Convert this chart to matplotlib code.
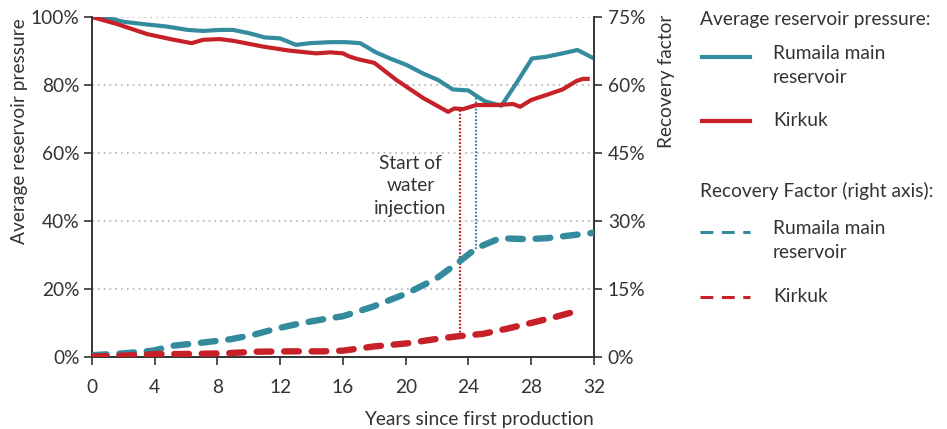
import numpy as np
import matplotlib
matplotlib.use("Agg")
import matplotlib.pyplot as plt
from matplotlib.lines import Line2D

plt.rcParams['font.family'] = ['Lato', 'DejaVu Sans']

# ---- data ----
rum_p_x = [0, 1.15, 2.0, 3.3, 4.75, 6.1, 7.1, 8.15, 9.0, 10.05, 11.0, 12.0, 13.0, 13.9, 15.2, 16.2,
           17.1, 18.1, 19.0, 20.05, 21.1, 22.05, 23.0, 24.0, 24.4, 25.05, 26.1, 27.05, 28.05, 28.95, 30.0, 30.95, 32.0]
rum_p_y = [100, 99.6, 98.6, 97.9, 97.2, 96.2, 95.9, 96.2, 96.2, 95.2, 94.0, 93.7, 91.8, 92.3, 92.6, 92.6,
           92.3, 89.6, 87.8, 85.9, 83.4, 81.5, 78.7, 78.4, 77.1, 75.2, 73.9, 80.5, 87.8, 88.3, 89.3, 90.3, 87.8]

kir_p_x = [0, 1.55, 3.5, 5.0, 6.35, 7.1, 8.15, 9.0, 10.9, 12.6, 14.3, 15.2, 16.0, 16.4, 16.95, 18.0,
           19.4, 21.1, 22.7, 23.1, 23.65, 24.5, 25.8, 26.85, 27.3, 28.0, 29.05, 30.0, 30.9, 31.3, 31.6]
kir_p_y = [100, 98.0, 95.0, 93.5, 92.3, 93.3, 93.5, 93.0, 91.3, 90.1, 89.3, 89.6, 89.3, 88.4, 87.6, 86.5,
           81.5, 76.2, 72.1, 73.1, 72.9, 74.1, 74.1, 74.4, 73.6, 75.6, 77.2, 78.7, 81.2, 81.8, 81.8]

rum_rf_x = [0, 2.0, 3.9, 5.2, 7.1, 8.8, 10.3, 11.8, 13.25, 14.7, 16.0, 17.9, 20.05, 21.95, 23.4, 24.5,
            26.0, 27.7, 28.95, 30.7, 32.0]
rum_rf_y = [0.4, 0.8, 1.4, 2.5, 3.2, 3.9, 4.9, 6.3, 7.4, 8.3, 9.0, 11.1, 14.0, 17.3, 21.0, 24.0,
            26.2, 26.0, 26.2, 26.9, 27.4]

kir_rf_x = [0, 2.0, 4.1, 5.8, 8.35, 10.5, 12.6, 14.7, 16.0, 17.9, 20.05, 22.2, 23.4, 24.9, 26.4,
            28.1, 29.6, 31.2]
kir_rf_y = [0.1, 0.3, 0.66, 0.66, 0.8, 1.17, 1.25, 1.25, 1.4, 2.3, 3.0, 4.1, 4.6, 5.1, 6.2,
            7.6, 8.9, 10.4]

injection_year = {'Kirkuk': 23.45, 'Rumaila': 24.45}

x_ticks = [0, 4, 8, 12, 16, 20, 24, 28, 32]
left_ticks = [0, 20, 40, 60, 80, 100]
right_ticks = [0, 15, 30, 45, 60, 75]

TEAL = '#338B9D'
RED = '#C62128'
TXT = '#333333'
FS = 13.8

fig = plt.figure(figsize=(9.47, 4.29), dpi=100)
ax = fig.add_axes([0.0971, 0.1678, 0.5301, 0.7926])
ax2 = ax.twinx()

ax.set_xlim(0, 32)
ax.set_ylim(0, 100)
ax2.set_ylim(0, 75)

for v in left_ticks[1:]:
    ax.axhline(v, color='#b0b0b0', lw=1.2, ls=(0, (1, 2.5)), zorder=0)

ax.plot(rum_p_x, rum_p_y, color=TEAL, lw=3.0, solid_joinstyle='round', zorder=3)
ax.plot(kir_p_x, kir_p_y, color=RED, lw=3.0, solid_joinstyle='round', zorder=3)

ax2.plot(rum_rf_x, rum_rf_y, color=TEAL, lw=4.6, ls=(0, (2.3, 2.0)), dash_capstyle='round', zorder=3)
ax2.plot(kir_rf_x, kir_rf_y, color=RED, lw=4.6, ls=(0, (2.3, 2.0)), dash_capstyle='round', zorder=3)

# vertical injection markers, in left-axis units
scale = 100 / 75
for name, col, px, py, rx, ry in [('Kirkuk', RED, kir_p_x, kir_p_y, kir_rf_x, kir_rf_y),
                                   ('Rumaila', TEAL, rum_p_x, rum_p_y, rum_rf_x, rum_rf_y)]:
    xv = injection_year[name]
    y0 = np.interp(xv, rx, ry) * scale
    y1 = np.interp(xv, px, py)
    ax.plot([xv, xv], [y0, y1], color=col, lw=1.6, ls=(0, (0.8, 0.8)), zorder=2)

ax.text(20.3, 50.3, 'Start of\nwater\ninjection', ha='center', va='center', fontsize=FS,
        color=TXT, linespacing=1.4)

ax.set_xticks(x_ticks)
ax.set_yticks(left_ticks)
ax.set_yticklabels([f'{v}%' for v in left_ticks])
ax2.set_yticks(right_ticks)
ax2.set_yticklabels([f'{v}%' for v in right_ticks])

for a in (ax, ax2):
    a.spines['top'].set_visible(False)
    for s in a.spines.values():
        s.set_color('#333333')
        s.set_linewidth(1.2)
    a.tick_params(colors='#333333', labelcolor=TXT, labelsize=FS, width=1.2, length=6, pad=3)
ax.tick_params(axis='x', pad=10)
ax2.tick_params(axis='y', pad=4)

ax.set_xlabel('Years since first production', fontsize=FS, color=TXT, ha='right')
ax.xaxis.set_label_coords(1.0, -0.16)
ax.set_ylabel('Average reservoir pressure', fontsize=FS, color=TXT)
ax.yaxis.set_label_coords(-0.128, 0.665)
ax2.set_ylabel('Recovery factor', fontsize=FS, color=TXT, rotation=90)
ax2.yaxis.set_label_coords(1.128, 0.81)

# legend (manual)
W, H = 947, 429
def fx(p): return p / W
def fy(p): return 1 - p / H

fig.text(fx(700), fy(20), 'Average reservoir pressure:', fontsize=FS, color=TXT, va='center')
fig.text(fx(700), fy(191), 'Recovery Factor (right axis):', fontsize=FS, color=TXT, va='center')
entries = [(57, TEAL, '-', 'Rumaila main\nreservoir', 65.5),
           (121, RED, '-', 'Kirkuk', 120),
           (232, TEAL, '--', 'Rumaila main\nreservoir', 240.5),
           (297, RED, '--', 'Kirkuk', 296)]
for ly, col, ls, label, ty in entries:
    if ls == '-':
        fig.add_artist(Line2D([fx(702), fx(750)], [fy(ly), fy(ly)], color=col, lw=3.0,
                              transform=fig.transFigure))
    else:
        fig.add_artist(Line2D([fx(700), fx(750)], [fy(ly), fy(ly)], color=col, lw=2.2,
                              ls=(0, (4.2, 2.8)), transform=fig.transFigure))
    fig.text(fx(773), fy(ty), label, fontsize=FS, color=TXT, va='center', linespacing=1.55)

fig.savefig('out.png', dpi=100)
